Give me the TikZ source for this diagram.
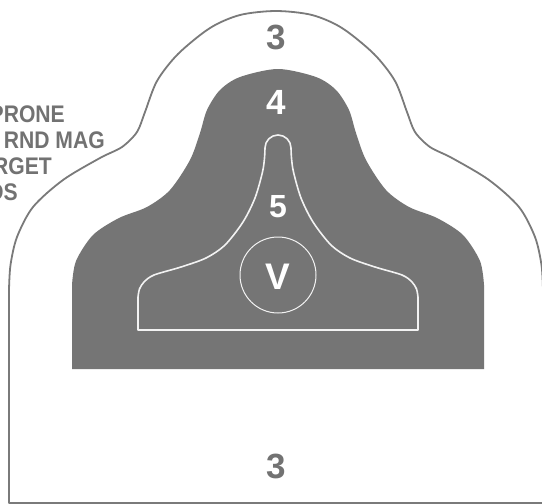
\documentclass[tikz,border=0pt]{standalone}
\usepackage{fontspec}
\setmainfont{Liberation Sans}
\definecolor{outl}{HTML}{7A7A7A}
\definecolor{darkfill}{HTML}{757575}
\definecolor{txtgray}{HTML}{727272}
\definecolor{innerline}{HTML}{F2F2F2}
\tikzset{
  outline/.style={draw=outl, line width=1.8pt, line join=round},
  darkzone/.style={fill=darkfill},
  innerzone/.style={draw=innerline, line width=1.6pt, line join=round},
  vring/.style={draw=innerline, line width=1pt},
  numgray/.style={text=txtgray, inner sep=0pt, font=\fontsize{35}{40}\selectfont\bfseries},
  numwhite/.style={text=white, inner sep=0pt, font=\fontsize{35}{40}\selectfont\bfseries},
  sidelabel/.style={text=txtgray, inner sep=0pt, anchor=east, font=\fontsize{24}{28}\selectfont\bfseries}
}
\begin{document}
\begin{tikzpicture}[x=1pt,y=-1pt]
\useasboundingbox (0,0) rectangle (542,504);
\fill[white] (0,0) rectangle (542,504);

% outer outline (zone 3)
\path[outline] (9,503) -- (9,290) -- plot[smooth] coordinates {
  (9,290) (10.5,265) (17,237) (33,207) (63,180) (100,158) (122,147)
  (137,132) (145,112) (157,81) (178,54) (210,28) (240,15) (276,11)
  (312,15) (342,28) (374,54) (395,81) (407,112) (415,132) (430,147)
  (452,158) (489,180) (519,207) (535,237) (541.5,265) (543,290)}
  -- (543,503) -- cycle;

% dark zone 4
\path[darkzone] (72,369) -- (72,285) -- plot[smooth] coordinates {
  (72,285) (76,261) (93,235) (119,218) (147,207) (170,190) (190,160)
  (200,133) (207,110) (220,90) (240,77) (278,69) (316,77) (336,90)
  (349,110) (356,133) (366,160) (386,190) (409,207) (437,218)
  (463,235) (480,261) (484,285)} -- (484,369) -- cycle;

% inner zone 5
\path[innerzone] (138,330) -- (138,297) -- plot[smooth] coordinates {
  (138,297) (139.5,289) (144,282) (154,275) (181,267) (206,258)
  (225,245) (243,222) (255,198) (262.5,172) (264.5,158) (265,148)}
  arc[start angle=180, end angle=360, radius=13]
  -- plot[smooth] coordinates {
  (291,148) (291.5,158) (293.5,172) (301,198) (313,222) (331,245)
  (350,258) (375,267) (402,275) (412,282) (416.5,289) (418,297)}
  -- (418,330) -- cycle;

% V ring
\node[vring, circle, minimum size=76pt, inner sep=0pt] (vring) at (278,275) {};

% labels
\node[numgray] (topthree) at (276,37.5) {3};
\node[numwhite] (four) at (276,102.5) {4};
\node[numwhite, font=\fontsize{32}{36}\selectfont\bfseries] (five) at (278,207) {5};
\node[numwhite, font=\fontsize{37}{40}\selectfont\bfseries] (vee) at (278,276.5) {V};
\node[numgray] (botthree) at (276,466.7) {3};

% side text, cut by the left edge as in the reference
\node[sidelabel] (lprone) at (65,114) {\scalebox{0.88}[1]{PRONE}};
\node[sidelabel] (lmag) at (105,140) {\scalebox{0.88}[1]{RND MAG}};
\node[sidelabel] (ltarget) at (52,166.7) {\scalebox{0.88}[1]{RGET}};
\node[sidelabel] (lyds) at (18,192.5) {\scalebox{0.88}[1]{DS}};
\end{tikzpicture}
\end{document}
